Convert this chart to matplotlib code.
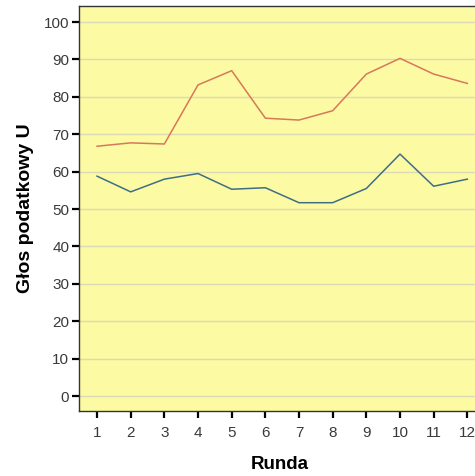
import numpy as np
import matplotlib.pyplot as plt

plt.rcParams['font.family'] = ['Liberation Sans', 'DejaVu Sans']

# Rounds and the two series
rounds = np.arange(1, 13)
series_red = [66.8, 67.7, 67.4, 83.2, 87.0, 74.3, 73.8, 76.3, 86.1, 90.3, 86.1, 83.6]
series_blue = [58.8, 54.6, 58.0, 59.5, 55.3, 55.7, 51.7, 51.7, 55.5, 64.7, 56.1, 58.0]
y_ticks = [0, 10, 20, 30, 40, 50, 60, 70, 80, 90, 100]

fig = plt.figure(figsize=(4.75, 4.76), dpi=100)
ax = fig.add_axes([79 / 475, 1 - 411 / 476, 1 - 79 / 475 + 0.01, (411 - 6) / 476])
ax.set_facecolor('#fcfaa2')

for y in y_ticks:
    ax.axhline(y, color='#dcdab4', linewidth=1.0, zorder=1)

ax.plot(rounds, series_red, color='#d8785a', linewidth=1.1, zorder=3)
ax.plot(rounds, series_blue, color='#3f6e86', linewidth=1.1, zorder=3)

ax.set_xlim(0.464, 0.464 + 400 / 33.6)
ax.set_ylim(-4.0, 104.3)
ax.set_xticks(rounds)
ax.set_yticks(y_ticks)
ax.tick_params(direction='out', length=5, width=1.6, color='black',
               labelsize=11, labelcolor='#3a3a3a')
ax.tick_params(axis='x', pad=6)
ax.tick_params(axis='y', pad=2)

for side in ['left', 'bottom', 'top']:
    ax.spines[side].set_color('#333333')
    ax.spines[side].set_linewidth(1.0)
ax.spines['right'].set_visible(False)

ax.set_xlabel('Runda', fontsize=13.5, fontweight='bold', labelpad=11)
ax.set_ylabel('Głos podatkowy U', fontsize=14, fontweight='bold', labelpad=7)

fig.savefig('out.png', dpi=100)
